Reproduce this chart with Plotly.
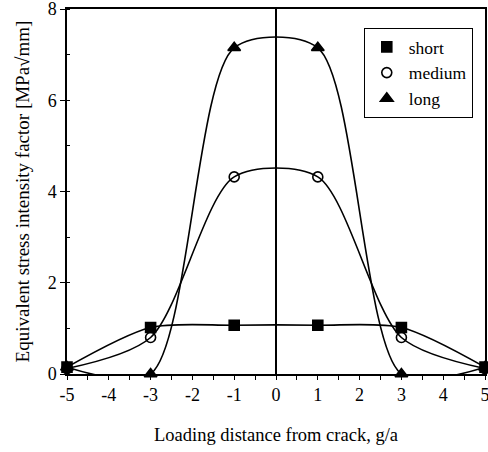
import plotly.graph_objects as go

x_vals = [-5, -3, -1, 1, 3, 5]
short_vals = [0.15, 1.02, 1.07, 1.07, 1.02, 0.15]
medium_vals = [0.12, 0.80, 4.32, 4.32, 0.80, 0.12]
long_vals = [0.15, 0.0, 7.15, 7.15, 0.0, 0.15]

x_tick_vals = [-5, -4, -3, -2, -1, 0, 1, 2, 3, 4, 5]
x_tick_text = ["-5", "-4", "-3", "-2", "-1", "0", "1", "2", "3", "4", "5"]
y_tick_vals = [0, 2, 4, 6, 8]
y_tick_text = ["0", "2", "4", "6", "8"]

series = [
    ("short", short_vals, "square", 10),
    ("medium", medium_vals, "circle-open", 10),
    ("long", long_vals, "triangle-up", 11),
]

FONT = "Liberation Serif"
fig = go.Figure()

for name, vals, sym, size in series:
    fig.add_trace(go.Scatter(
        x=x_vals, y=vals, mode="lines", showlegend=False,
        line=dict(color="black", width=1.6, shape="spline", smoothing=0.8),
        hoverinfo="skip",
    ))

for name, vals, sym, size in series:
    fig.add_trace(go.Scatter(
        x=x_vals, y=vals, mode="markers", name=name, cliponaxis=False,
        marker=dict(symbol=sym, size=size, color="black",
                    line=dict(color="black", width=1.6)),
    ))

fig.update_layout(
    width=488, height=452,
    margin=dict(l=67, r=3, t=9, b=78, autoexpand=False),
    paper_bgcolor="white", plot_bgcolor="white",
    font=dict(family=FONT, size=17, color="black"),
    showlegend=True,
    legend=dict(
        x=0.71, y=0.948, xanchor="left", yanchor="top",
        bgcolor="white", bordercolor="black", borderwidth=1,
        font=dict(family=FONT, size=17.5),
        tracegroupgap=0, itemwidth=34,
    ),
    xaxis=dict(
        range=[-5, 5], tickvals=x_tick_vals, ticktext=x_tick_text,
        showgrid=False, zeroline=True, zerolinecolor="black", zerolinewidth=1.5,
        showline=True, linecolor="black", linewidth=1.5, mirror=True,
        ticks="outside", ticklen=4, tickwidth=1.2, tickcolor="black",
        minor=dict(dtick=0.5, ticks="outside", ticklen=4, tickwidth=1.2, tickcolor="black"),
        title=dict(text="Loading distance from crack, g/a", standoff=24,
                   font=dict(family=FONT, size=18.5)),
        tickfont=dict(family=FONT, size=18),
        ticklabeloverflow="allow",
        automargin=False,
    ),
    yaxis=dict(
        range=[0, 8], tickvals=y_tick_vals, ticktext=y_tick_text,
        showgrid=False, zeroline=False,
        showline=True, linecolor="black", linewidth=1.5, mirror=True,
        ticks="outside", ticklen=5, tickwidth=1.2, tickcolor="black",
        minor=dict(dtick=1, ticks="inside", ticklen=3, tickwidth=1.2, tickcolor="black"),
        title=dict(text="Equivalent stress intensity factor [MPa√mm]", standoff=13,
                   font=dict(family=FONT, size=19)),
        tickfont=dict(family=FONT, size=18),
        ticklabeloverflow="allow",
        automargin=False,
    ),
)

fig.write_html("out.html", config={"displayModeBar": False},
               post_script="document.body.style.margin='0';document.body.style.overflow='hidden';")
